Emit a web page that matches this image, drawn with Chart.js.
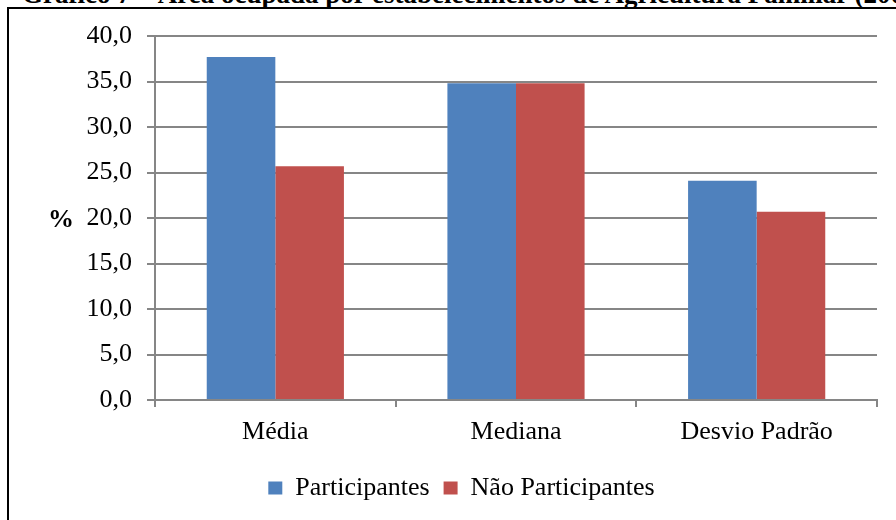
<!DOCTYPE html>
<html>
<head>
<meta charset="utf-8">
<script src="https://cdn.jsdelivr.net/npm/chart.js@4"></script>
<style>
  body { margin: 0; background: #fff; overflow: hidden; }
  #wrap { position: relative; width: 896px; height: 520px; overflow: hidden; }
  #title { position: absolute; left: 22px; top: -19px; font: bold 27px 'Liberation Serif', serif; line-height: 27px; white-space: nowrap; color: #000; }
  #frame { position: absolute; left: 7px; top: 7px; width: 950px; height: 600px; border: 2px solid #000; box-sizing: border-box; }
  #pct { position: absolute; left: 48px; top: 204px; font: bold 26px 'Liberation Serif', serif; color: #000; }
  canvas { position: absolute; left: 0; top: 0; }
</style>
</head>
<body>
<div id="wrap">
  <div id="title">Gráfico 7 – Área ocupada por estabelecimentos de Agricultura Familiar (2006)</div>
  <div id="frame"></div>
  <canvas id="chart" width="896" height="520"></canvas>
  <div id="pct">%</div>
</div>
<script>
const categories = ['Média', 'Mediana', 'Desvio Padrão'];
const participantes = [37.7, 34.8, 24.1];
const naoParticipantes = [25.7, 34.8, 20.7];
const yTicks = [0, 5, 10, 15, 20, 25, 30, 35, 40];

const font = { family: "'Liberation Serif', serif", size: 26 };

new Chart(document.getElementById('chart'), {
  type: 'bar',
  data: {
    labels: categories,
    datasets: [
      { label: 'Participantes', data: participantes, backgroundColor: '#4F81BD' },
      { label: 'Não Participantes', data: naoParticipantes, backgroundColor: '#C0504D' }
    ]
  },
  options: {
    responsive: false,
    animation: false,
    layout: { padding: { top: 36, right: 19, left: 46, bottom: 9 } },
    datasets: { bar: { categoryPercentage: 0.57, barPercentage: 1.0 } },
    plugins: {
      tooltip: { enabled: false },
      legend: {
        position: 'bottom',
        labels: { font: font, color: '#000', boxWidth: 14, boxHeight: 13, padding: 14 }
      }
    },
    scales: {
      x: {
        grid: { offset: true, drawOnChartArea: false, drawTicks: true, tickLength: 7, color: '#868686', lineWidth: 2 },
        border: { color: '#868686', width: 2 },
        ticks: { font: font, color: '#000', padding: 10 },
        afterFit: s => { s.height = 61; }
      },
      y: {
        min: 0,
        max: 40,
        afterBuildTicks: s => { s.ticks = yTicks.map(v => ({ value: v })); },
        grid: { color: '#868686', lineWidth: 2, tickLength: 8 },
        border: { color: '#868686', width: 2 },
        ticks: {
          font: font,
          color: '#000',
          padding: 15,
          callback: v => v.toFixed(1).replace('.', ',')
        },
        afterFit: s => { s.width = 109; }
      }
    }
  }
});
</script>
</body>
</html>
